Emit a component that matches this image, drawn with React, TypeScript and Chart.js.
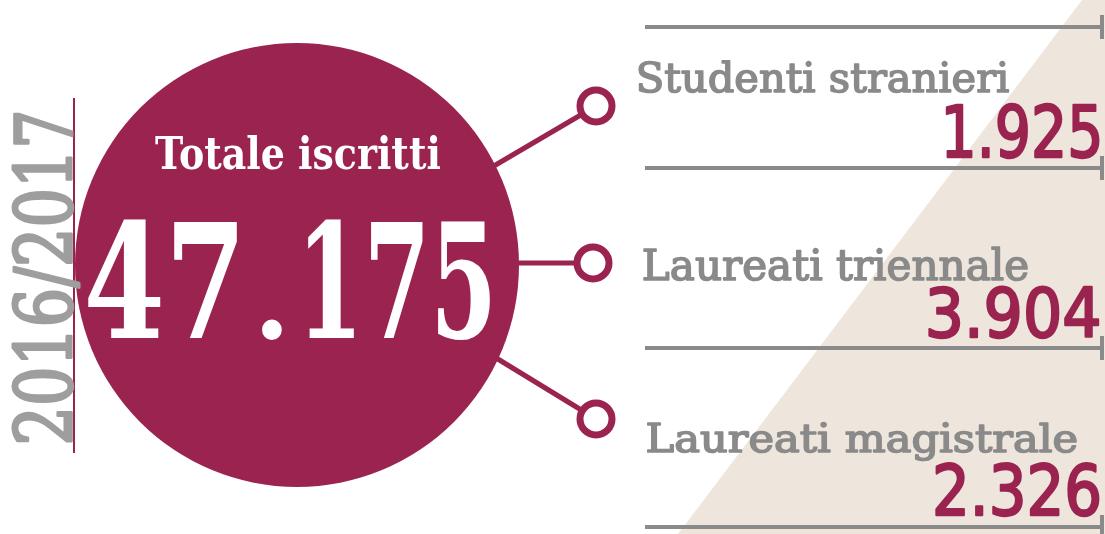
import React, { useEffect, useRef } from 'react';
import { Chart, registerables } from 'chart.js';

Chart.register(...registerables);

// ---------- data ----------
const categories = ['Studenti stranieri', 'Laureati triennale', 'Laureati magistrale'];
const values = [1925, 3904, 2326];
const totalLabel = 'Totale iscritti';
const totalValue = 47175;
const yearLabel = '2016/2017';

// ---------- style / layout ----------
const W = 1105;
const H = 534;
const MAROON = '#9b2350';
const GRAY = '#8a8a8a';
const YEAR_GRAY = '#9e9e9e';
const BEIGE = '#eee6dc';

const CIRCLE = { x: 297, y: 265 };
const CIRCLE_R = 222;
const RING_POS = [
  { x: 596, y: 106 },
  { x: 593, y: 263 },
  { x: 596, y: 419 },
];
const LINK_START = [
  { x: 470, y: 180 },
  { x: 500, y: 263 },
  { x: 470, y: 342 },
];
const RULE_Y = [27, 168, 348, 527];
const RULE_X0 = 645;
const RULE_X1 = 1102;
const DIVIDER = [{ x: 74, y: 98 }, { x: 74, y: 453 }];
const BEIGE_EDGE = [{ x: 678, y: 534 }, { x: 1082, y: 0 }, { x: 1105, y: 0 }];

const LABEL_BOX = [
  { left: 638, right: 1010, top: 60, base: 92 },
  { left: 643, right: 1028, top: 247, base: 280 },
  { left: 647, right: 1077, top: 422, base: 452 },
];
const VALUE_BOX = [
  { left: 945, right: 1100, top: 103, base: 157 },
  { left: 928, right: 1100, top: 285, base: 337 },
  { left: 935, right: 1100, top: 462, base: 515 },
];
const TOTAL_LABEL_BOX = { left: 155, right: 440, top: 135, base: 169 };
// boxes for the integer part, the separator and the rest of the total
const TOTAL_VALUE_BOXES = [
  { left: 88, right: 237, top: 220, base: 338 },
  { left: 262, right: 282, top: 318, base: 338 },
  { left: 308, right: 490, top: 220, base: 338 },
];
const YEAR_BOX = { baseX: 72, topX: 12, startY: 443, endY: 112 };

const SERIF = "'DejaVu Serif', serif";
const SANS = "'DejaVu Sans', sans-serif";

function fmt(n: number): string {
  return String(n).replace(/\B(?=(\d{3})+(?!\d))/g, '.');
}

// draw text so its ink box fits [left,right] x [top,base] (in local coords)
function drawFit(
  ctx: CanvasRenderingContext2D,
  text: string,
  left: number,
  right: number,
  top: number,
  base: number,
  family: string,
  weight: string,
  color: string,
  stroke = 0
) {
  ctx.save();
  ctx.textAlign = 'left';
  ctx.textBaseline = 'alphabetic';
  ctx.font = `${weight} 100px ${family}`;
  const m0 = ctx.measureText(text);
  const size = ((base - top - stroke / 2) / m0.actualBoundingBoxAscent) * 100;
  ctx.font = `${weight} ${size}px ${family}`;
  const m = ctx.measureText(text);
  const ink = m.actualBoundingBoxLeft + m.actualBoundingBoxRight;
  const sx = (right - left - stroke) / ink;
  ctx.translate(left + stroke / 2, base);
  ctx.scale(sx, 1);
  ctx.fillStyle = color;
  ctx.fillText(text, m.actualBoundingBoxLeft, 0);
  if (stroke > 0) {
    ctx.strokeStyle = color;
    ctx.lineWidth = stroke;
    ctx.lineJoin = 'round';
    ctx.strokeText(text, m.actualBoundingBoxLeft, 0);
  }
  ctx.restore();
}

const textPlugin = {
  id: 'infoText',
  afterDatasetsDraw(chart: any) {
    const ctx: CanvasRenderingContext2D = chart.ctx;
    const xs = chart.scales.x;
    const ys = chart.scales.y;
    const X = (v: number) => xs.getPixelForValue(v);
    const Y = (v: number) => ys.getPixelForValue(v);

    categories.forEach((c, i) => {
      const b = LABEL_BOX[i];
      drawFit(ctx, c, X(b.left), X(b.right), Y(b.top), Y(b.base), SERIF, 'normal', GRAY, 1.6);
      const v = VALUE_BOX[i];
      drawFit(ctx, fmt(values[i]), X(v.left), X(v.right), Y(v.top), Y(v.base), SANS, 'normal', MAROON, 2.4);
    });

    const tl = TOTAL_LABEL_BOX;
    drawFit(ctx, totalLabel, X(tl.left), X(tl.right), Y(tl.top), Y(tl.base), SERIF, 'bold', '#ffffff');

    const s = fmt(totalValue);
    const dot = s.indexOf('.');
    const parts = dot >= 0 ? [s.slice(0, dot), '.', s.slice(dot + 1)] : [s];
    parts.forEach((p, i) => {
      const tv = TOTAL_VALUE_BOXES[i];
      drawFit(ctx, p, X(tv.left), X(tv.right), Y(tv.top), Y(tv.base), SERIF, 'bold', '#ffffff');
    });

    // year, rotated
    const yb = YEAR_BOX;
    ctx.save();
    ctx.translate(X(yb.baseX), Y(yb.startY));
    ctx.rotate(-Math.PI / 2);
    const len = Y(yb.startY) - Y(yb.endY);
    const asc = X(yb.baseX) - X(yb.topX);
    drawFit(ctx, yearLabel, 0, len, -asc, 0, SERIF, 'normal', YEAR_GRAY, 3);
    ctx.restore();
  },
};

export default function App() {
  const ref = useRef<HTMLCanvasElement | null>(null);

  useEffect(() => {
    if (!ref.current) return;
    const line = (data: any[], color: string, width: number, order: number) => ({
      data,
      showLine: true,
      borderColor: color,
      borderWidth: width,
      pointRadius: 0,
      fill: false,
      order,
    });

    const datasets: any[] = [
      {
        data: RING_POS,
        showLine: false,
        pointRadius: 16,
        pointBorderWidth: 7,
        pointBackgroundColor: '#ffffff',
        pointBorderColor: MAROON,
        order: 0,
      },
      {
        data: [CIRCLE],
        showLine: false,
        pointRadius: CIRCLE_R,
        pointBorderWidth: 0,
        pointBackgroundColor: MAROON,
        pointBorderColor: MAROON,
        order: 1,
      },
      ...LINK_START.map((s, i) => line([s, RING_POS[i]], MAROON, 5, 2)),
      line(DIVIDER, MAROON, 2, 2),
      ...RULE_Y.map((y) => line([{ x: RULE_X0, y }, { x: RULE_X1, y }], GRAY, 4, 3)),
      ...RULE_Y.map((y) => line([{ x: RULE_X1, y: y - 12 }, { x: RULE_X1, y: y + 12 }], GRAY, 4, 3)),
      {
        data: BEIGE_EDGE,
        showLine: true,
        borderWidth: 0,
        borderColor: BEIGE,
        backgroundColor: BEIGE,
        pointRadius: 0,
        fill: { value: H },
        order: 10,
      },
    ];

    const chart = new Chart(ref.current, {
      type: 'line',
      data: { datasets },
      options: {
        animation: false,
        responsive: false,
        devicePixelRatio: 1,
        events: [],
        layout: { padding: 0, autoPadding: false },
        plugins: { legend: { display: false }, tooltip: { enabled: false } },
        scales: {
          x: { type: 'linear', min: 0, max: W, display: false },
          y: { type: 'linear', min: 0, max: H, reverse: true, display: false },
        },
      } as any,
      plugins: [textPlugin],
    });
    return () => chart.destroy();
  }, []);

  return (
    <div style={{ position: 'fixed', left: 0, top: 0, width: W, height: H, background: '#ffffff' }}>
      <canvas ref={ref} width={W} height={H} style={{ display: 'block' }} />
    </div>
  );
}
